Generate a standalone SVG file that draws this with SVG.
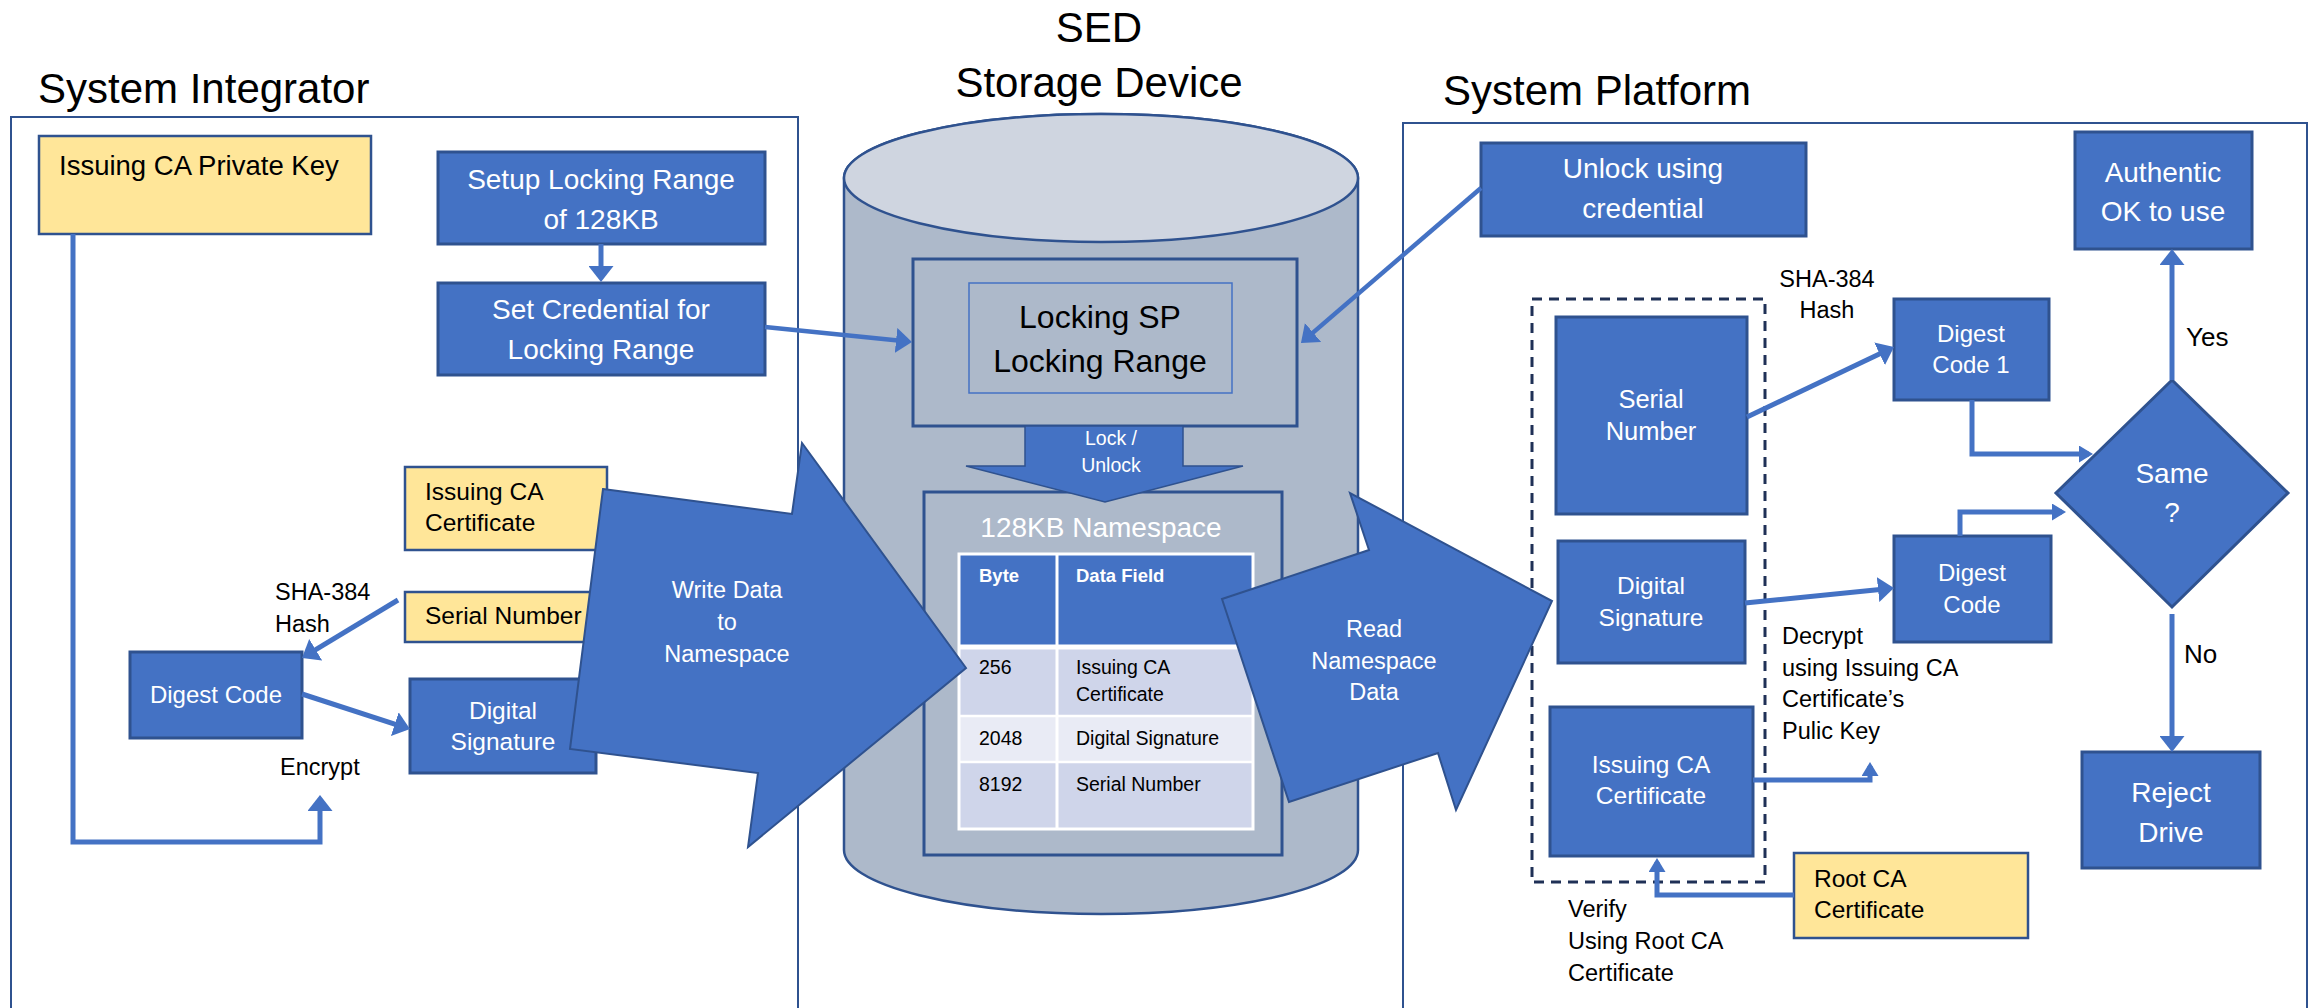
<svg xmlns="http://www.w3.org/2000/svg" width="2315" height="1008" viewBox="0 0 2315 1008">
  <style>
    text { font-family: "Liberation Sans", Arial, sans-serif; }
    .title { font-size: 42px; fill: #000; }
    .frame { fill: none; stroke: #2F528F; stroke-width: 2; }
    .box { fill: #4472C4; stroke: #2F528F; stroke-width: 3; }
    .note { fill: #FFE699; stroke: #2F528F; stroke-width: 2.5; }
    .wt { fill: #fff; text-anchor: middle; }
    .bt { fill: #000; }
    .lbl { fill: #000; font-size: 23.5px; }
    .conn { fill: none; stroke: #4472C4; stroke-width: 5; }
    .thin { stroke-width: 4.5; }
    .block { fill: #4472C4; stroke: #2F528F; stroke-width: 2; }
    .cell { fill: #000; font-size: 19.5px; }
    .hdr { fill: #fff; font-size: 18.5px; font-weight: bold; }
  </style>
  <defs>
    <marker id="big" viewBox="0 0 16 25" refX="12" refY="12.5" markerWidth="16" markerHeight="25" markerUnits="userSpaceOnUse" orient="auto">
      <path d="M0,0 L16,12.5 L0,25 Z" fill="#4472C4"/>
    </marker>
    <marker id="small" viewBox="0 0 14 17" refX="10" refY="8.5" markerWidth="14" markerHeight="17" markerUnits="userSpaceOnUse" orient="auto">
      <path d="M0,0 L14,8.5 L0,17 Z" fill="#4472C4"/>
    </marker>
  </defs>

  <!-- headings -->
  <g id="headings">
    <text class="title" x="38" y="103">System Integrator</text>
    <text class="title" x="1099" y="42" text-anchor="middle">SED</text>
    <text class="title" x="1099" y="97" text-anchor="middle">Storage Device</text>
    <text class="title" x="1443" y="105">System Platform</text>
  </g>

  <!-- swimlane frames (open at the bottom edge) -->
  <g id="frame-integrator"><rect class="frame" x="11" y="117" width="787" height="950"/></g>
  <g id="frame-platform"><rect class="frame" x="1403" y="123" width="904" height="950"/></g>

  <!-- System Integrator side -->
  <g id="private-key">
    <rect class="note" x="39" y="136" width="332" height="98"/>
    <text class="bt" x="59" y="175" font-size="27.5">Issuing CA Private Key</text>
  </g>
  <g id="setup-range">
    <rect class="box" x="438" y="152" width="327" height="92"/>
    <text class="wt" x="601" y="189" font-size="28">Setup Locking Range</text>
    <text class="wt" x="601" y="229" font-size="28">of 128KB</text>
  </g>
  <g id="set-credential">
    <rect class="box" x="438" y="283" width="327" height="92"/>
    <text class="wt" x="601" y="319" font-size="28">Set Credential for</text>
    <text class="wt" x="601" y="359" font-size="28">Locking Range</text>
  </g>
  <g id="ca-cert-left">
    <rect class="note" x="405" y="467" width="202" height="83"/>
    <text class="bt" x="425" y="500" font-size="24.5">Issuing CA</text>
    <text class="bt" x="425" y="531" font-size="24.5">Certificate</text>
  </g>
  <g id="serial-left">
    <rect class="note" x="405" y="592" width="197" height="50"/>
    <text class="bt" x="425" y="624" font-size="24.5">Serial Number</text>
  </g>
  <g id="digest-left">
    <rect class="box" x="130" y="652" width="172" height="86"/>
    <text class="wt" x="216" y="703" font-size="24">Digest Code</text>
  </g>
  <g id="signature-left">
    <rect class="box" x="410" y="679" width="186" height="94"/>
    <text class="wt" x="503" y="719" font-size="24.5">Digital</text>
    <text class="wt" x="503" y="750" font-size="24.5">Signature</text>
  </g>
  <g id="labels-left">
    <text class="lbl" x="275" y="600">SHA-384</text>
    <text class="lbl" x="275" y="632">Hash</text>
    <text class="lbl" x="280" y="775">Encrypt</text>
  </g>

  <!-- storage device cylinder -->
  <g id="sed">
    <path d="M844,178 L844,850 A257,64 0 0 0 1358,850 L1358,178 A257,64 0 0 0 844,178 Z" fill="#ADB9CA" stroke="#2F528F" stroke-width="2.5"/>
    <ellipse cx="1101" cy="178" rx="257" ry="64" fill="#CFD5E0" stroke="#2F528F" stroke-width="2.5"/>
  </g>
  <g id="locking-sp">
    <rect x="913" y="259" width="384" height="167" fill="#ADB9CA" stroke="#2F528F" stroke-width="3"/>
    <rect x="969" y="283" width="263" height="110" fill="#ADB9CA" stroke="#4472C4" stroke-width="1.5"/>
    <text class="bt" x="1100" y="328" font-size="32" text-anchor="middle">Locking SP</text>
    <text class="bt" x="1100" y="372" font-size="32" text-anchor="middle">Locking Range</text>
  </g>
  <g id="namespace">
    <rect x="924" y="492" width="358" height="363" fill="#ADB9CA" stroke="#2F528F" stroke-width="3"/>
    <text class="wt" x="1101" y="537" font-size="28">128KB Namespace</text>
    <!-- layout table -->
    <rect x="959" y="554" width="294" height="93" fill="#4472C4"/>
    <rect x="959" y="647" width="294" height="69" fill="#CFD5EA"/>
    <rect x="959" y="716" width="294" height="46" fill="#E9EBF5"/>
    <rect x="959" y="762" width="294" height="67" fill="#CFD5EA"/>
    <g stroke="#fff" fill="none">
      <rect x="959" y="554" width="294" height="275" stroke-width="3"/>
      <line x1="1057" y1="554" x2="1057" y2="829" stroke-width="3"/>
      <line x1="959" y1="647" x2="1253" y2="647" stroke-width="5"/>
      <line x1="959" y1="716" x2="1253" y2="716" stroke-width="2.5"/>
      <line x1="959" y1="762" x2="1253" y2="762" stroke-width="2.5"/>
    </g>
    <text class="hdr" x="979" y="582">Byte</text>
    <text class="hdr" x="1076" y="582">Data Field</text>
    <text class="cell" x="979" y="674">256</text>
    <text class="cell" x="1076" y="674">Issuing CA</text>
    <text class="cell" x="1076" y="701">Certificate</text>
    <text class="cell" x="979" y="745">2048</text>
    <text class="cell" x="1076" y="745">Digital Signature</text>
    <text class="cell" x="979" y="791">8192</text>
    <text class="cell" x="1076" y="791">Serial Number</text>
  </g>
  <g id="lock-unlock">
    <polygon points="1025,426 1183,426 1183,466 1243,466 1105,502 966,466 1025,466" fill="#4472C4" stroke="#2F528F" stroke-width="1.5"/>
    <text class="wt" x="1111" y="445" font-size="19.5">Lock /</text>
    <text class="wt" x="1111" y="472" font-size="19.5">Unlock</text>
  </g>

  <!-- System Platform side -->
  <g id="unlock-credential">
    <rect class="box" x="1481" y="143" width="325" height="93"/>
    <text class="wt" x="1643" y="178" font-size="28">Unlock using</text>
    <text class="wt" x="1643" y="218" font-size="28">credential</text>
  </g>
  <g id="authentic">
    <rect class="box" x="2075" y="132" width="177" height="117"/>
    <text class="wt" x="2163" y="182" font-size="28">Authentic</text>
    <text class="wt" x="2163" y="221" font-size="28">OK to use</text>
  </g>
  <g id="read-fields">
    <rect x="1532" y="299" width="233" height="583" fill="none" stroke="#1F3056" stroke-width="3" stroke-dasharray="10 7"/>
  </g>
  <g id="serial-right">
    <rect class="box" x="1556" y="317" width="191" height="197"/>
    <text class="wt" x="1651" y="408" font-size="25.5">Serial</text>
    <text class="wt" x="1651" y="440" font-size="25.5">Number</text>
  </g>
  <g id="signature-right">
    <rect class="box" x="1558" y="541" width="187" height="122"/>
    <text class="wt" x="1651" y="594" font-size="24.5">Digital</text>
    <text class="wt" x="1651" y="626" font-size="24.5">Signature</text>
  </g>
  <g id="ca-cert-right">
    <rect class="box" x="1550" y="707" width="203" height="149"/>
    <text class="wt" x="1651" y="773" font-size="24.5">Issuing CA</text>
    <text class="wt" x="1651" y="804" font-size="24.5">Certificate</text>
  </g>
  <g id="digest-1">
    <rect class="box" x="1894" y="299" width="155" height="101"/>
    <text class="wt" x="1971" y="342" font-size="24">Digest</text>
    <text class="wt" x="1971" y="373" font-size="24">Code 1</text>
  </g>
  <g id="digest-right">
    <rect class="box" x="1894" y="536" width="157" height="106"/>
    <text class="wt" x="1972" y="581" font-size="24">Digest</text>
    <text class="wt" x="1972" y="613" font-size="24">Code</text>
  </g>
  <g id="same">
    <polygon class="box" points="2172,380 2288,493 2172,607 2056,493"/>
    <text class="wt" x="2172" y="483" font-size="28">Same</text>
    <text class="wt" x="2172" y="522" font-size="28">?</text>
  </g>
  <g id="reject">
    <rect class="box" x="2082" y="752" width="178" height="116"/>
    <text class="wt" x="2171" y="802" font-size="28">Reject</text>
    <text class="wt" x="2171" y="842" font-size="28">Drive</text>
  </g>
  <g id="root-ca">
    <rect class="note" x="1794" y="853" width="234" height="85"/>
    <text class="bt" x="1814" y="887" font-size="24.5">Root CA</text>
    <text class="bt" x="1814" y="918" font-size="24.5">Certificate</text>
  </g>
  <g id="labels-right">
    <text class="lbl" x="1827" y="287" text-anchor="middle">SHA-384</text>
    <text class="lbl" x="1827" y="318" text-anchor="middle">Hash</text>
    <text class="lbl" x="1782" y="644">Decrypt</text>
    <text class="lbl" x="1782" y="676">using Issuing CA</text>
    <text class="lbl" x="1782" y="707">Certificate’s</text>
    <text class="lbl" x="1782" y="739">Pulic Key</text>
    <text class="lbl" x="1568" y="917">Verify</text>
    <text class="lbl" x="1568" y="949">Using Root CA</text>
    <text class="lbl" x="1568" y="981">Certificate</text>
    <text class="bt" x="2186" y="346" font-size="26">Yes</text>
    <text class="bt" x="2184" y="663" font-size="26">No</text>
  </g>

  <!-- connectors -->
  <g id="connectors">
    <path class="conn" d="M601,244 V278" marker-end="url(#big)"/>
    <path class="conn thin" d="M765,327 L908,341.6" marker-end="url(#big)"/>
    <path class="conn thin" d="M1481,188 L1304,340.4" marker-end="url(#big)"/>
    <path class="conn" d="M398,600 L305.4,655.9" marker-end="url(#big)"/>
    <path class="conn" d="M302,694 L406.2,727.8" marker-end="url(#big)"/>
    <path class="conn" d="M73,234 V842 H320 V799" marker-end="url(#big)"/>
    <path class="conn" d="M1747,417 L1890.4,348.7" marker-end="url(#big)"/>
    <path class="conn" d="M1745,603 L1890,588.4" marker-end="url(#big)"/>
    <path class="conn" d="M1972,400 V454 H2089" marker-end="url(#small)"/>
    <path class="conn" d="M1960,536 V512 H2062" marker-end="url(#small)"/>
    <path class="conn" d="M2172,380 V253" marker-end="url(#big)"/>
    <path class="conn" d="M2172,614 V748" marker-end="url(#big)"/>
    <path class="conn" d="M1753,780 H1870 V766" marker-end="url(#small)"/>
    <path class="conn" d="M1794,895 H1657 V862" marker-end="url(#small)"/>
  </g>

  <!-- block arrows carrying data between the device and both sides -->
  <g id="write-data">
    <polygon class="block" points="603,489 792,514 802,443 966,668 748,847 758,773 570,749"/>
    <text class="wt" x="727" y="598" font-size="23.5">Write Data</text>
    <text class="wt" x="727" y="630" font-size="23.5">to</text>
    <text class="wt" x="727" y="662" font-size="23.5">Namespace</text>
  </g>
  <g id="read-data">
    <polygon class="block" points="1222,599 1369,550 1350,493 1552,601 1456,810 1438,753 1289,802"/>
    <text class="wt" x="1374" y="637" font-size="23.5">Read</text>
    <text class="wt" x="1374" y="669" font-size="23.5">Namespace</text>
    <text class="wt" x="1374" y="700" font-size="23.5">Data</text>
  </g>
</svg>
